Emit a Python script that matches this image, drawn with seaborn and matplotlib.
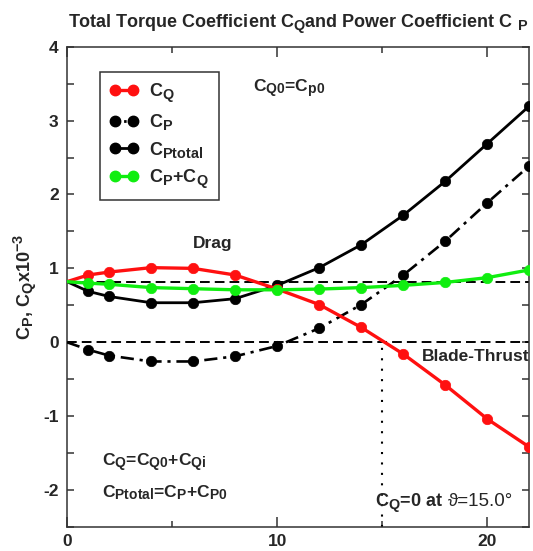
import matplotlib
matplotlib.use("Agg")
import matplotlib.pyplot as plt
import matplotlib._mathtext as _mt
from matplotlib.lines import Line2D
from matplotlib.ticker import MultipleLocator
import numpy as np
import pandas as pd
import seaborn as sns

# Blade pitch angle (deg) and coefficients (x10^-3)
theta = [0, 1, 2, 4, 6, 8, 10, 12, 14, 16, 18, 20, 22]
cq = [0.82, 0.91, 0.95, 1.01, 1.00, 0.91, 0.72, 0.51, 0.20, -0.16, -0.58, -1.04, -1.42]
cp = [0.00, -0.10, -0.18, -0.26, -0.26, -0.19, -0.05, 0.19, 0.51, 0.91, 1.37, 1.89, 2.39]
cp_total = [0.82, 0.69, 0.62, 0.535, 0.535, 0.59, 0.77, 1.01, 1.32, 1.72, 2.18, 2.69, 3.20]
cp_plus_cq = [0.82, 0.80, 0.785, 0.74, 0.725, 0.71, 0.71, 0.72, 0.74, 0.77, 0.81, 0.875, 0.98]
c0 = 0.82          # C_Q0 = C_P0
theta_zero = 15.0  # pitch where C_Q = 0

legend_labels = ["C$_Q$", "C$_P$", "C$_{Ptotal}$", "C$_P$+C$_Q$"]

df = pd.DataFrame({"theta": theta, "cq": cq, "cp": cp,
                   "cp_total": cp_total, "cp_plus_cq": cp_plus_cq})

sns.set_style("ticks")
plt.rcParams["font.family"] = ["Liberation Sans", "DejaVu Sans"]
plt.rcParams["font.weight"] = "bold"
plt.rcParams["axes.unicode_minus"] = False
plt.rcParams["mathtext.fontset"] = "custom"
plt.rcParams["mathtext.rm"] = "Liberation Sans:bold"
plt.rcParams["mathtext.it"] = "Liberation Sans:bold"
plt.rcParams["mathtext.bf"] = "Liberation Sans:bold"
plt.rcParams["mathtext.default"] = "rm"
# larger sub/superscripts than the mathtext default
_mt.SHRINK_FACTOR = 0.8

fig = plt.figure(figsize=(5.33, 5.51), dpi=100)
ax = fig.add_axes([0.1257, 0.0436, 0.8677, 0.8716])

red = "#ff1010"
green = "#10ee10"
dashdot = (0, (5, 2.2, 1.2, 2.2))

series = [
    ("cp", "black", dashdot, 1.9, 3),
    ("cp_total", "black", "-", 2.0, 4),
    ("cq", red, "-", 2.4, 5),
    ("cp_plus_cq", green, "-", 2.4, 6),
]
ms = 7.5
for col, color, ls, lw, z in series:
    sns.lineplot(data=df, x="theta", y=col, ax=ax, color=color,
                 linewidth=lw, linestyle=ls, marker="o", markersize=ms,
                 markeredgecolor=color, markeredgewidth=0.5,
                 markevery=list(range(1, len(theta))), zorder=z,
                 legend=False)

# reference lines
ax.axhline(c0, color="black", lw=1.4, ls=(0, (5, 2.6)), zorder=2)
ax.axhline(0, color="black", lw=1.4, ls=(0, (5, 2.6)), zorder=2)
ax.vlines(theta_zero, -2.5, 0, color="black", lw=1.5, ls=(0, (1, 4)), zorder=2)

ax.set_xlim(0, 22)
ax.set_ylim(-2.5, 4)
ax.set_xticks([0, 10, 20])
ax.xaxis.set_minor_locator(MultipleLocator(5))
ax.set_yticks([-2, -1, 0, 1, 2, 3, 4])
ax.yaxis.set_minor_locator(MultipleLocator(0.5))
ax.tick_params(which="both", direction="in", top=True, right=True,
               color="#333333", width=1.1)
ax.tick_params(axis="x", which="major", length=7, pad=5, labelsize=12.5)
ax.tick_params(axis="x", which="minor", length=4)
ax.tick_params(axis="y", which="both", length=5, pad=6, labelsize=12.5)
for lab in ax.get_xticklabels() + ax.get_yticklabels():
    lab.set_fontweight("bold")
for sp in ax.spines.values():
    sp.set_color("#333333")
    sp.set_linewidth(1.1)

ax.set_xlabel("")
ax.set_ylabel("C$_P$, C$_Q$x10$^{-3}$", fontsize=13, fontweight="bold",
              labelpad=3)
ax.set_title("Total Torque Coefficient C$_Q$and Power Coefficient C $_P$",
             fontsize=13, fontweight="bold", pad=14)

# annotations
fs = 12.5
ax.text(8.83, 3.385, "C$_{Q0}$=C$_{p0}$", fontsize=fs)
ax.text(6.0, 1.28, "Drag", fontsize=fs)
ax.text(16.9, -0.26, "Blade-Thrust", fontsize=fs)
ax.text(1.65, -1.68, "C$_Q$=C$_{Q0}$+C$_{Qi}$", fontsize=fs)
ax.text(1.65, -2.10, "C$_{Ptotal}$=C$_P$+C$_{P0}$", fontsize=fs)
ax.text(14.64, -2.21, "C$_Q$=0 at", fontsize=13)
ax.text(18.1, -2.21, "\u03d1=15.0\u00b0", fontsize=13.5, fontweight="normal",
        family=["Liberation Sans", "DejaVu Sans"])

# legend sample for C_P: a single dot between the two markers
legend_dashdot = (3.0, (0.9, 5.2))
handles = [
    Line2D([0], [0], color=red, lw=2.4, marker="o", ms=ms, mec=red),
    Line2D([0], [0], color="black", lw=2.0, ls=legend_dashdot, marker="o",
           ms=ms, mec="black"),
    Line2D([0], [0], color="black", lw=2.0, marker="o", ms=ms, mec="black"),
    Line2D([0], [0], color=green, lw=2.4, marker="o", ms=ms, mec=green),
]
leg = ax.legend(handles, legend_labels, loc="upper left",
                bbox_to_anchor=(0.071, 0.948), borderaxespad=0,
                numpoints=2, fontsize=13, handlelength=1.6,
                labelspacing=0.42, frameon=True, fancybox=False,
                framealpha=1, edgecolor="#333333", borderpad=0.55,
                handletextpad=0.6)
leg.get_frame().set_linewidth(1.1)

fig.savefig("out.png", dpi=100)
